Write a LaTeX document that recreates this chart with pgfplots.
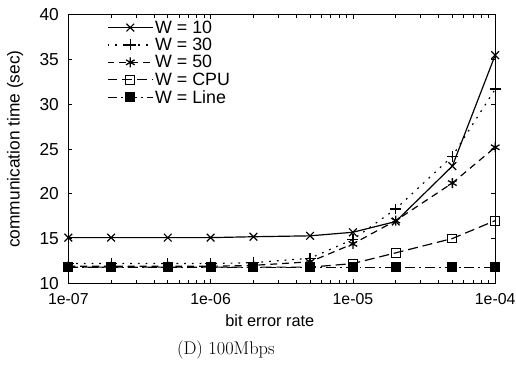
\documentclass[border=0pt]{standalone}
\usepackage{fontspec}
\usepackage{pgfplots}
\usetikzlibrary{calc}
\pgfplotsset{compat=1.18}
\newfontfamily\helv{Liberation Sans}
\begin{document}
\begin{tikzpicture}
\begin{axis}[
  name=ax,
  scale only axis,
  width=431pt, height=271pt,
  xmode=log,
  xmin=1e-7, xmax=1e-4,
  ymin=10, ymax=40,
  xtick={1e-7,1e-6,1e-5,1e-4},
  xticklabels={1e-07,1e-06,1e-05,1e-04},
  ytick={10,15,20,25,30,35,40},
  minor xtick={},
  tick align=inside,
  major tick length=4pt,
  tick style={line width=0.8pt, black},
  axis line style={line width=1.3pt},
  /pgf/number format/assume math mode=true,
  yticklabel style={font=\helv\fontsize{17.5}{18}\selectfont, xshift=-6pt},
  xticklabel style={font=\helv\fontsize{16}{18}\selectfont, yshift=-7pt},
  xlabel={bit error rate},
  ylabel={communication time (sec)},
  xlabel style={font=\helv\fontsize{16.5}{17}\selectfont, at={(axis description cs:0.472,0)}, anchor=north, yshift=-28pt},
  ylabel style={font=\helv\fontsize{17.5}{18}\selectfont, at={(axis description cs:0,0.5)}, anchor=south, yshift=42pt},
  legend style={draw=none, fill=none, at={(axis description cs:0.09,0.985)}, anchor=north west,
    font=\helv\fontsize{18}{19}\selectfont, row sep=0.5pt, inner sep=0pt,
    nodes={inner sep=1.5pt},
    /tikz/every even column/.append style={column sep=4pt}},
  legend cell align=left,
  legend image code/.code={\draw[mark repeat=2,mark phase=2] plot coordinates {(0pt,0pt) (23pt,0pt) (46pt,0pt)};},
  every axis plot/.append style={line width=1.2pt, black},
]
\addplot[solid, mark=x, mark size=5.5pt, mark options={solid, line width=1.2pt}] coordinates {
(1e-7,15.1) (2e-7,15.1) (5e-7,15.1) (1e-6,15.1) (2e-6,15.2) (5e-6,15.3) (1e-5,15.7) (2e-5,16.9) (5e-5,23.1) (1e-4,35.5)};
\addlegendentry{W = 10}
\addplot[dash pattern=on 1.8pt off 6pt, mark=+, mark size=5.5pt, mark options={solid, line width=1.3pt}] coordinates {
(1e-7,12.2) (2e-7,12.2) (5e-7,12.2) (1e-6,12.2) (2e-6,12.3) (5e-6,12.8) (1e-5,14.9) (2e-5,18.3) (5e-5,24.2) (1e-4,31.7)};
\addlegendentry{W = 30}
\addplot[dash pattern=on 7pt off 5pt, mark=asterisk, mark size=5pt, mark options={solid, line width=1.3pt}] coordinates {
(1e-7,11.9) (2e-7,11.9) (5e-7,11.9) (1e-6,11.9) (2e-6,12.0) (5e-6,12.4) (1e-5,14.4) (2e-5,17.0) (5e-5,21.2) (1e-4,25.2)};
\addlegendentry{W = 50}
\addplot[dash pattern=on 10pt off 5pt, mark=square, mark size=4.5pt, mark options={solid, fill=white, line width=1pt}] coordinates {
(1e-7,11.8) (2e-7,11.8) (5e-7,11.8) (1e-6,11.8) (2e-6,11.8) (5e-6,11.8) (1e-5,12.2) (2e-5,13.4) (5e-5,15.0) (1e-4,17.0)};
\addlegendentry{W = CPU}
\addplot[dash pattern=on 10pt off 4pt on 2pt off 4pt, mark=square*, mark size=4.5pt, mark options={solid, fill=black}] coordinates {
(1e-7,11.8) (2e-7,11.8) (5e-7,11.8) (1e-6,11.8) (2e-6,11.8) (5e-6,11.8) (1e-5,11.8) (2e-5,11.8) (5e-5,11.8) (1e-4,11.8)};
\addlegendentry{W = Line}
\end{axis}
\node[font=\rmfamily\fontsize{18.5}{20}\selectfont, anchor=center] at ($(ax.south west)+(159pt,-67pt)$) {(D) 100Mbps};
\pgfresetboundingbox
\path ($(ax.south west)+(-69pt,-83pt)$) rectangle ($(ax.north east)+(21pt,15pt)$);
\end{tikzpicture}
\end{document}
